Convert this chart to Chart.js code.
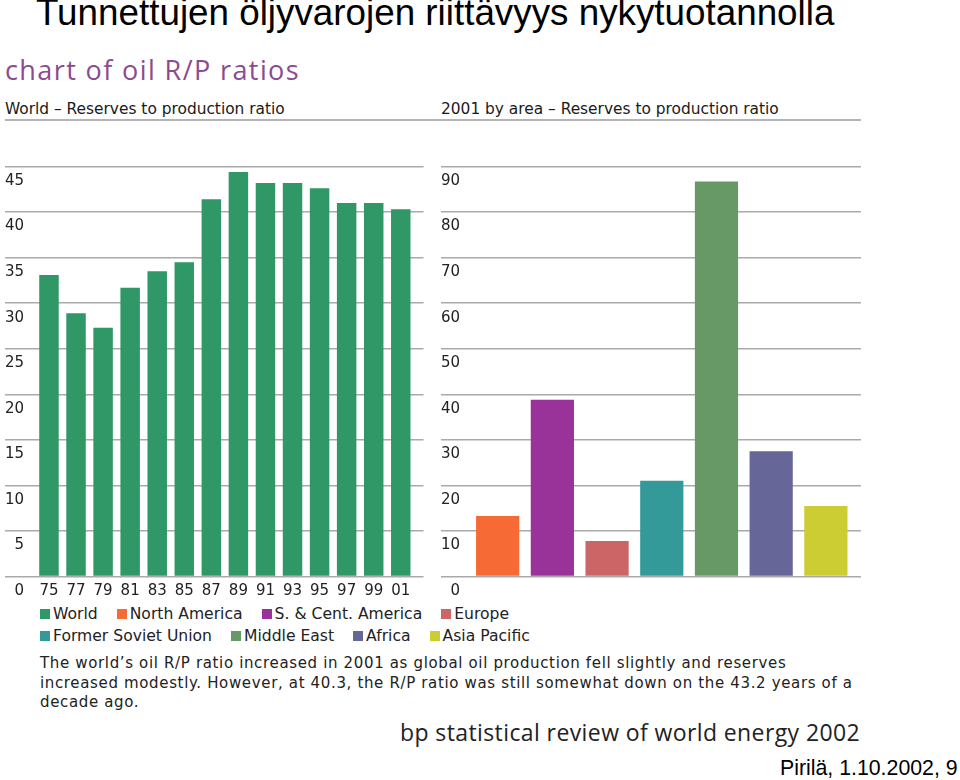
<!DOCTYPE html>
<html lang="fi">
<head>
<meta charset="UTF-8">
<title>Tunnettujen öljyvarojen riittävyys nykytuotannolla</title>
<script src="https://cdn.jsdelivr.net/npm/chart.js"></script>
<style>
  body { margin: 0; background: #fff; }
  #page { position: relative; width: 960px; height: 780px; overflow: hidden; font-family: "DejaVu Sans", Verdana, sans-serif; color: #222; }
  .txt { position: absolute; white-space: nowrap; line-height: 1; }
  #title { left: 36px; top: -4.6px; font-family: "Liberation Sans", Arial, sans-serif; font-size: 36.8px; color: #000; }
  #sub { left: 5px; top: 55.5px; font-family: "Open Sans", sans-serif; font-size: 27px; letter-spacing: 1.4px; color: #8c4a91; }
  .head { top: 102px; font-size: 15.4px; color: #1a1a1a; }
  #rule { position: absolute; left: 5px; top: 119px; width: 856px; height: 2px; background: #b4b4b4; }
  .box { position: absolute; top: 150px; width: 430px; height: 450px; }
  #legend { position: absolute; left: 40px; top: 603px; width: 520px; display: flex; flex-wrap: wrap; column-gap: 19px; font-size: 15.6px; line-height: 22px; color: #222; }
  #legend span.item { display: flex; align-items: center; white-space: nowrap; }
  #legend span.sw { width: 10px; height: 10px; margin-right: 3px; display: inline-block; }
  #note { left: 40px; top: 654px; font-size: 15px; letter-spacing: 0.65px; line-height: 19.5px; color: #222; }
  #bp { left: 400px; top: 721px; font-family: "Open Sans", sans-serif; font-size: 23px; letter-spacing: 0.4px; color: #222; }
  #by { left: 780px; top: 758px; font-family: "Liberation Sans", Arial, sans-serif; font-size: 21.3px; color: #000; }
</style>
</head>
<body>
<div id="page">
  <div class="txt" id="title">Tunnettujen öljyvarojen riittävyys nykytuotannolla</div>
  <div class="txt" id="sub">chart of oil R/P ratios</div>
  <div class="txt head" style="left:5px">World – Reserves to production ratio</div>
  <div class="txt head" style="left:441px">2001 by area – Reserves to production ratio</div>
  <div id="rule"></div>

  <div class="box" style="left:0px"><canvas id="worldChart"></canvas></div>
  <div class="box" style="left:436px"><canvas id="areaChart"></canvas></div>

  <div id="legend"></div>

  <div class="txt" id="note">The world’s oil R/P ratio increased in 2001 as global oil production fell slightly and reserves<br>increased modestly. However, at 40.3, the R/P ratio was still somewhat down on the 43.2 years of a<br>decade ago.</div>
  <div class="txt" id="bp">bp statistical review of world energy 2002</div>
  <div class="txt" id="by">Pirilä, 1.10.2002, 9</div>
</div>

<script>
// data
const years = [1975, 1977, 1979, 1981, 1983, 1985, 1987, 1989, 1991, 1993, 1995, 1997, 1999, 2001];
const yearLabels = ['75', '77', '79', '81', '83', '85', '87', '89', '91', '93', '95', '97', '99', '01'];
const worldRP = [33.1, 28.9, 27.3, 31.7, 33.5, 34.5, 41.4, 44.4, 43.2, 43.2, 42.6, 41.0, 41.0, 40.3];

const areas = ['North America', 'S. & Cent. America', 'Europe', 'Former Soviet Union', 'Middle East', 'Africa', 'Asia Pacific'];
const areaRP = [13.3, 38.8, 7.8, 21.0, 86.7, 27.5, 15.5];

// colours
const worldColor = '#2f9866';
const areaColors = ['#f56a35', '#993399', '#cc6666', '#339999', '#669966', '#666699', '#cccc33'];

Chart.defaults.font.family = '"DejaVu Sans", Verdana, sans-serif';
Chart.defaults.color = '#222';

const tickFont = { size: 15 };
const gridOpts = { color: '#aaa', lineWidth: 1.5, drawTicks: false };

// left: world, by year
new Chart(document.getElementById('worldChart'), {
  type: 'bar',
  data: {
    datasets: [{
      label: 'World',
      data: years.map((y, i) => ({ x: y, y: worldRP[i] })),
      backgroundColor: worldColor,
      barPercentage: 0.72,
      categoryPercentage: 1
    }]
  },
  options: {
    animation: false,
    responsive: true,
    maintainAspectRatio: false,
    layout: { padding: { left: 5, right: 6.5, top: 16.5, bottom: 0 } },
    plugins: { legend: { display: false }, tooltip: { enabled: false } },
    scales: {
      x: {
        type: 'linear', offset: false, bounds: 'data',
        min: 1971.75, max: 2002.68,
        grid: { display: false, drawTicks: false },
        border: { display: false },
        afterBuildTicks: axis => { axis.ticks = years.map(v => ({ value: v })); },
        afterFit: axis => { axis.height = 23.5; },
        ticks: {
          autoSkip: false, maxRotation: 0, padding: 5.5, font: tickFont,
          callback: v => yearLabels[years.indexOf(v)]
        }
      },
      y: {
        min: 0, max: 45,
        grid: gridOpts,
        border: { display: false },
        ticks: { stepSize: 5, mirror: true, padding: 0, crossAlign: 'far', labelOffset: 14.5, font: tickFont }
      }
    }
  }
});

// right: 2001 by area
new Chart(document.getElementById('areaChart'), {
  type: 'bar',
  data: {
    datasets: [{
      label: '2001',
      data: areas.map((a, i) => ({ x: i, y: areaRP[i] })),
      backgroundColor: areaColors,
      barPercentage: 0.79,
      categoryPercentage: 1
    }]
  },
  options: {
    animation: false,
    responsive: true,
    maintainAspectRatio: false,
    layout: { padding: { left: 5, right: 5, top: 16.5, bottom: 23.5 } },
    plugins: { legend: { display: false }, tooltip: { enabled: false } },
    scales: {
      x: {
        type: 'linear', offset: false, bounds: 'data', display: false,
        min: -1.036, max: 6.642,
        afterBuildTicks: axis => { axis.ticks = areas.map((a, i) => ({ value: i })); }
      },
      y: {
        min: 0, max: 90,
        grid: gridOpts,
        border: { display: false },
        ticks: { stepSize: 10, mirror: true, padding: 0, crossAlign: 'far', labelOffset: 14.5, font: tickFont }
      }
    }
  }
});

// shared legend
const legend = document.getElementById('legend');
['World'].concat(areas).forEach((name, i) => {
  const item = document.createElement('span');
  item.className = 'item';
  const sw = document.createElement('span');
  sw.className = 'sw';
  sw.style.background = i === 0 ? worldColor : areaColors[i - 1];
  item.appendChild(sw);
  item.appendChild(document.createTextNode(name));
  legend.appendChild(item);
});
</script>
</body>
</html>
